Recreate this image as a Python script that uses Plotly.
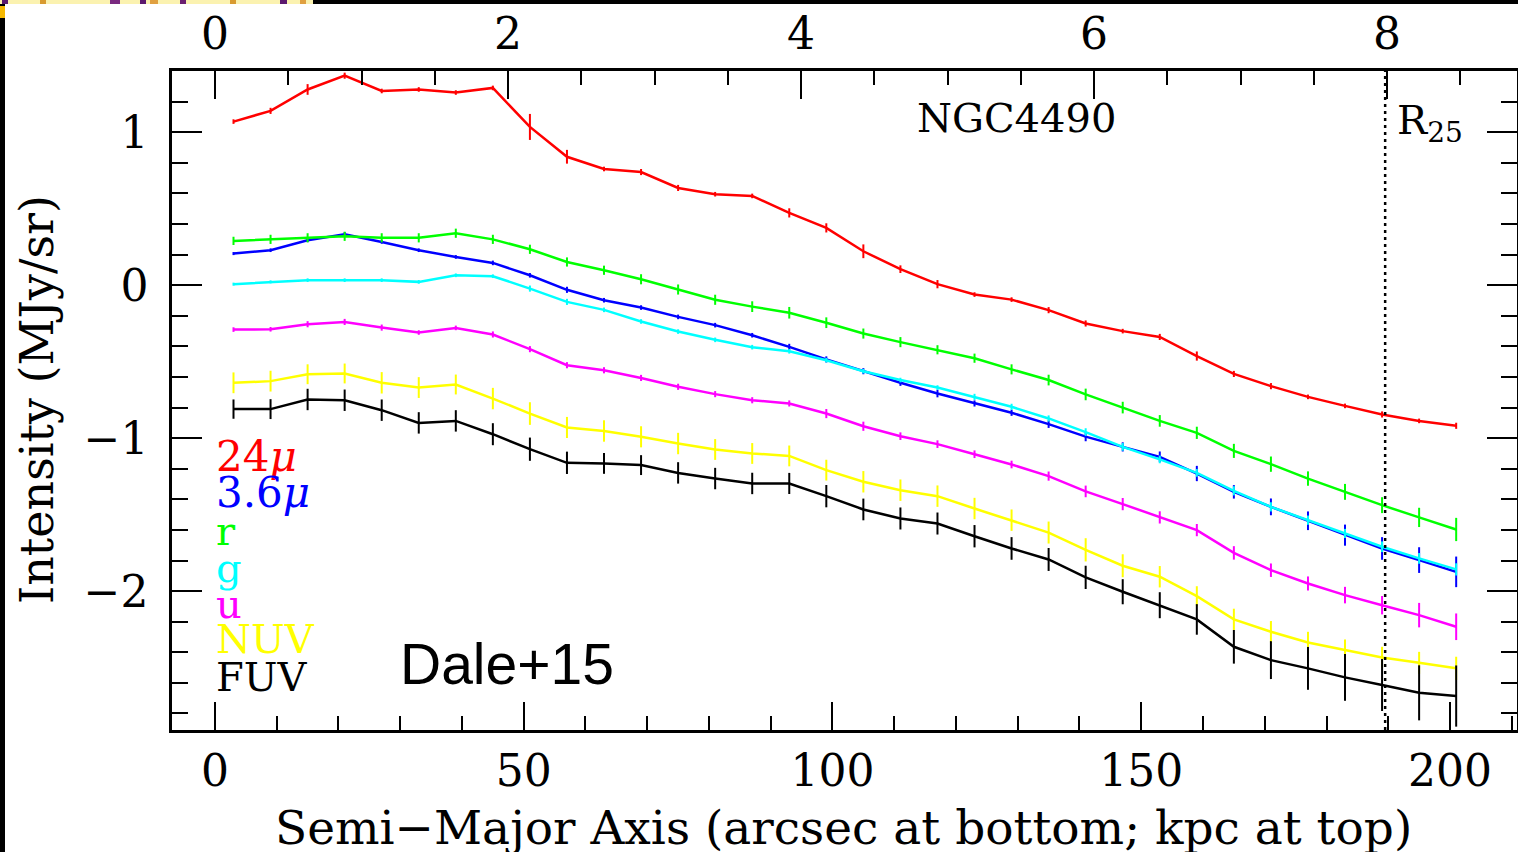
import plotly.graph_objects as go

# ---------------- data ----------------
arcsec = [3, 9, 15, 21, 27, 33, 39, 45, 51, 57, 63, 69, 75, 81, 87, 93, 99, 105, 111,
          117, 123, 129, 135, 141, 147, 153, 159, 165, 171, 177, 183, 189, 195, 201]

band_names = ["24<i>μ</i>", "3.6<i>μ</i>", "r", "g", "u", "NUV", "FUV"]
band_colors = ["#FF0000", "#0000FF", "#00FF00", "#00FFFF", "#FF00FF", "#FFFF00", "#000000"]

i24 = [1.07, 1.14, 1.28, 1.37, 1.27, 1.28, 1.26, 1.29, 1.035, 0.84, 0.76, 0.74, 0.636, 0.595,
       0.584, 0.473, 0.375, 0.222, 0.105, 0.007, -0.061, -0.094, -0.163, -0.25, -0.30, -0.338,
       -0.463, -0.58, -0.66, -0.73, -0.789, -0.845, -0.887, -0.919]
i36 = [0.207, 0.229, 0.294, 0.333, 0.283, 0.229, 0.185, 0.146, 0.065, -0.03, -0.098, -0.146,
       -0.207, -0.261, -0.327, -0.403, -0.485, -0.562, -0.638, -0.708, -0.773, -0.834, -0.908,
       -0.99, -1.057, -1.122, -1.231, -1.351, -1.449, -1.54, -1.634, -1.721, -1.797, -1.874]
ir = [0.29, 0.30, 0.31, 0.32, 0.31, 0.31, 0.34, 0.30, 0.235, 0.152, 0.098, 0.039, -0.028,
      -0.095, -0.14, -0.18, -0.245, -0.316, -0.372, -0.422, -0.477, -0.55, -0.62, -0.714, -0.80,
      -0.887, -0.965, -1.083, -1.17, -1.264, -1.351, -1.438, -1.518, -1.597]
ig = [0.007, 0.022, 0.033, 0.033, 0.033, 0.022, 0.065, 0.059, -0.022, -0.109, -0.161, -0.237,
      -0.303, -0.357, -0.405, -0.432, -0.49, -0.562, -0.62, -0.669, -0.73, -0.795, -0.871,
      -0.96, -1.057, -1.139, -1.227, -1.344, -1.449, -1.536, -1.623, -1.71, -1.786, -1.858]
iu = [-0.29, -0.288, -0.255, -0.24, -0.277, -0.309, -0.279, -0.322, -0.418, -0.523, -0.556,
      -0.606, -0.664, -0.712, -0.752, -0.773, -0.839, -0.922, -0.987, -1.039, -1.105, -1.172,
      -1.248, -1.348, -1.431, -1.518, -1.601, -1.75, -1.863, -1.95, -2.026, -2.092, -2.157, -2.233]
inuv = [-0.638, -0.627, -0.582, -0.577, -0.638, -0.669, -0.649, -0.741, -0.839, -0.93, -0.953,
        -0.991, -1.035, -1.074, -1.1, -1.116, -1.209, -1.285, -1.34, -1.379, -1.46, -1.536,
        -1.617, -1.73, -1.834, -1.906, -2.033, -2.185, -2.266, -2.336, -2.386, -2.434, -2.469, -2.505]
ifuv = [-0.81, -0.81, -0.747, -0.752, -0.817, -0.9, -0.887, -0.974, -1.072, -1.161, -1.165,
        -1.176, -1.227, -1.264, -1.296, -1.296, -1.379, -1.466, -1.525, -1.558, -1.641, -1.721,
        -1.793, -1.91, -2.004, -2.092, -2.185, -2.364, -2.451, -2.505, -2.564, -2.614, -2.665, -2.686]

e24 = [0.015, 0.02, 0.035, 0.02, 0.015, 0.015, 0.015, 0.015, 0.085, 0.045, 0.015, 0.02, 0.02,
       0.015, 0.015, 0.03, 0.03, 0.045, 0.025, 0.027, 0.015, 0.015, 0.02, 0.02, 0.015, 0.02,
       0.03, 0.02, 0.02, 0.015, 0.015, 0.02, 0.015, 0.02]
e36 = [0.01, 0.012, 0.012, 0.015, 0.012, 0.012, 0.012, 0.015, 0.015, 0.02, 0.015, 0.015, 0.015,
       0.015, 0.015, 0.02, 0.02, 0.02, 0.02, 0.025, 0.02, 0.02, 0.025, 0.03, 0.03, 0.035, 0.05,
       0.044, 0.055, 0.061, 0.069, 0.074, 0.084, 0.1]
er = [0.027, 0.03, 0.03, 0.03, 0.03, 0.03, 0.03, 0.03, 0.03, 0.03, 0.03, 0.033, 0.033, 0.033,
      0.035, 0.038, 0.035, 0.033, 0.033, 0.03, 0.03, 0.033, 0.035, 0.038, 0.038, 0.038, 0.04,
      0.046, 0.05, 0.047, 0.052, 0.052, 0.063, 0.076]
eg = [0.01, 0.01, 0.012, 0.012, 0.012, 0.012, 0.012, 0.012, 0.02, 0.02, 0.015, 0.015, 0.015,
      0.015, 0.015, 0.015, 0.015, 0.015, 0.015, 0.015, 0.02, 0.02, 0.02, 0.025, 0.025, 0.025,
      0.025, 0.03, 0.03, 0.03, 0.03, 0.035, 0.035, 0.04]
eu = [0.015, 0.015, 0.02, 0.02, 0.02, 0.015, 0.015, 0.02, 0.02, 0.02, 0.02, 0.02, 0.02, 0.02,
      0.02, 0.02, 0.03, 0.03, 0.025, 0.025, 0.025, 0.025, 0.03, 0.038, 0.04, 0.04, 0.04, 0.044,
      0.044, 0.046, 0.054, 0.06, 0.08, 0.087]
enuv = [0.068, 0.068, 0.065, 0.065, 0.07, 0.068, 0.065, 0.07, 0.074, 0.069, 0.07, 0.069, 0.07,
        0.068, 0.068, 0.068, 0.068, 0.07, 0.07, 0.07, 0.07, 0.07, 0.072, 0.076, 0.075, 0.07,
        0.065, 0.07, 0.07, 0.07, 0.07, 0.07, 0.072, 0.076]
efuv = [0.063, 0.065, 0.07, 0.07, 0.07, 0.07, 0.07, 0.072, 0.076, 0.073, 0.068, 0.065, 0.07,
        0.07, 0.07, 0.069, 0.073, 0.071, 0.072, 0.072, 0.073, 0.074, 0.075, 0.076, 0.082, 0.085,
        0.1, 0.11, 0.124, 0.14, 0.153, 0.17, 0.18, 0.2]

series = [i24, i36, ir, ig, iu, inuv, ifuv]
errors = [e24, e36, er, eg, eu, enuv, efuv]

r25_arcsec = 189.5
x_range = [-6.96, 210.85]          # arcsec
kpc_range = [-0.2935, 8.887]       # kpc (top axis)
y_range = [-2.908, 1.4007]
kpc_ticks = [0, 2, 4, 6, 8]
arcsec_ticks = [0, 50, 100, 150, 200]
y_ticks = [-2, -1, 0, 1]

x_title = "Semi−Major Axis (arcsec at bottom; kpc at top)"
y_title = "Intensity (MJy/sr)"

# ---------------- geometry helpers ----------------
W, H = 1518, 852
L, R, T, B = 172, 1517, 71, 730


def px(xp):
    return (xp - L) / (R - L)


def py(yp):
    return (B - yp) / (B - T)


SERIF = "DejaVu Serif"

fig = go.Figure()

for name, col, vals, err in zip(band_names, band_colors, series, errors):
    fig.add_trace(go.Scatter(
        x=arcsec, y=vals, mode="lines", name=name,
        line=dict(color=col, width=2.5),
        error_y=dict(type="data", array=err, visible=True, width=0, thickness=2, color=col),
        showlegend=False, hoverinfo="skip"))

# dummy trace to activate top kpc axis
fig.add_trace(go.Scatter(x=[0], y=[None], xaxis="x2", yaxis="y", mode="lines",
                         showlegend=False, hoverinfo="skip"))

tickfont = dict(family=SERIF, size=44, color="black")

fig.update_layout(
    width=W, height=H,
    margin=dict(l=L, r=W - R, t=T, b=H - B, pad=0, autoexpand=False),
    paper_bgcolor="white", plot_bgcolor="white",
    xaxis=dict(range=x_range, tickvals=arcsec_ticks, ticks="inside", ticklen=28, tickwidth=2,
               tickcolor="black", showline=True, linecolor="black", linewidth=2.5,
               mirror=False, showgrid=False, zeroline=False, tickfont=tickfont,
               ticklabelstandoff=0, automargin=False,
               minor=dict(dtick=10, ticks="inside", ticklen=14, tickwidth=2, tickcolor="black",
                          showgrid=False)),
    xaxis2=dict(range=kpc_range, overlaying="x", side="top", anchor="y", tickvals=kpc_ticks,
                ticks="inside", ticklen=28, tickwidth=2, tickcolor="black", showline=True,
                linecolor="black", linewidth=2.5, showgrid=False, zeroline=False,
                tickfont=tickfont, ticklabelstandoff=2, automargin=False,
                minor=dict(dtick=0.5, ticks="inside", ticklen=14, tickwidth=2,
                           tickcolor="black", showgrid=False)),
    yaxis=dict(range=y_range, tickvals=y_ticks, ticks="inside", ticklen=30, tickwidth=2,
               tickcolor="black", showline=True, linecolor="black", linewidth=2.5,
               mirror="ticks", showgrid=False, zeroline=False, tickfont=tickfont,
               ticklabelstandoff=12, automargin=False,
               minor=dict(dtick=0.2, ticks="inside", ticklen=16, tickwidth=2,
                          tickcolor="black", showgrid=False)),
)

# axis titles as annotations (keeps plot area fixed)
fig.add_annotation(text=x_title, xref="paper", yref="paper", x=px(843), y=py(827),
                   showarrow=False, xanchor="center", yanchor="middle",
                   font=dict(family=SERIF, size=47, color="black"))
fig.add_annotation(text=y_title, xref="paper", yref="paper", x=px(37), y=py(400),
                   showarrow=False, xanchor="center", yanchor="middle", textangle=-90,
                   font=dict(family=SERIF, size=46, color="black"))

# R25 dotted line
fig.add_shape(type="line", xref="x", yref="paper", x0=r25_arcsec, x1=r25_arcsec, y0=0, y1=1,
              line=dict(color="black", width=2.5, dash="3px,4px"))

# annotations
fig.add_annotation(text="NGC4490", xref="paper", yref="paper", x=px(1016), y=py(118),
                   showarrow=False, xanchor="center", yanchor="middle",
                   font=dict(family=SERIF, size=40, color="black"))
fig.add_annotation(text="R<sub>25</sub>", xref="paper", yref="paper", x=px(1395), y=py(123),
                   showarrow=False, xanchor="left", yanchor="middle",
                   font=dict(family=SERIF, size=40, color="black"))
fig.add_annotation(text="Dale+15", xref="paper", yref="paper", x=px(398), y=py(664),
                   showarrow=False, xanchor="left", yanchor="middle",
                   font=dict(family="Liberation Sans", size=57, color="black"))

label_centers = [456, 492, 531, 568, 604, 639, 677]
label_sizes = [42, 42, 40, 40, 40, 40, 40]
for name, col, yc, sz in zip(band_names, band_colors, label_centers, label_sizes):
    fig.add_annotation(text=name, xref="paper", yref="paper", x=px(214), y=py(yc),
                       showarrow=False, xanchor="left", yanchor="middle",
                       font=dict(family=SERIF, size=sz, color=col))

# scan-edge artefacts of the source image
fig.add_shape(type="rect", xref="paper", yref="paper", x0=px(0), x1=px(5), y0=py(852), y1=py(0),
              line=dict(width=0), fillcolor="black", layer="above")
fig.add_shape(type="rect", xref="paper", yref="paper", x0=px(313), x1=px(1518), y0=py(4), y1=py(0),
              line=dict(width=0), fillcolor="black", layer="above")
fig.add_shape(type="rect", xref="paper", yref="paper", x0=px(0), x1=px(313), y0=py(4), y1=py(0),
              line=dict(width=0), fillcolor="#FBF2B0", layer="above")
for a, b, c in [(2, 8, "#5B1A6E"), (40, 46, "#D89A30"), (110, 120, "#7A2A80"),
                (140, 146, "#5B1A6E"), (150, 158, "#E0A040"), (180, 186, "#6A2070"),
                (230, 236, "#D89A30"), (280, 287, "#5B1A6E"), (300, 306, "#E0A040")]:
    fig.add_shape(type="rect", xref="paper", yref="paper", x0=px(a), x1=px(b), y0=py(4), y1=py(0),
                  line=dict(width=0), fillcolor=c, layer="above")
fig.add_shape(type="rect", xref="paper", yref="paper", x0=px(0), x1=px(5), y0=py(18), y1=py(6),
              line=dict(width=0), fillcolor="#F5B800", layer="above")

fig.write_html("out.html")
